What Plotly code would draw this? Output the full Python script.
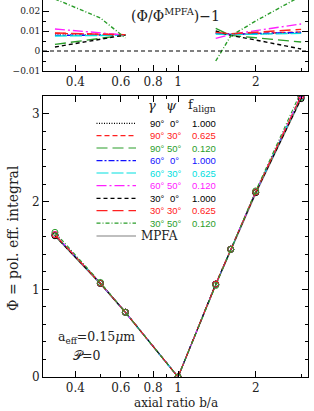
import math
import plotly.graph_objects as go

# ---------------- data ----------------
x_ratio = [1/3, 0.5, 0.625, 1.0, 1.4, 1.6, 2.0, 3.0]
phi_mpfa = [1.608, 1.061, 0.733, 0.0, 1.049, 1.445, 2.091, 3.171]

dev_90_0 = [0.0080, 0.0080, 0.0080, None, 0.0090, 0.0083, 0.0086, 0.0090]
dev_90_30 = [0.0088, 0.0085, 0.0082, None, 0.0092, 0.0085, 0.0088, 0.0095]
dev_90_50 = [0.0033, 0.0063, 0.0080, None, 0.0113, 0.0078, 0.0066, 0.0045]
dev_60_0 = [0.0078, 0.0079, 0.0080, None, 0.0088, 0.0083, 0.0087, 0.0093]
dev_60_30 = [0.0075, 0.0077, 0.0079, None, 0.0085, 0.0082, 0.0084, 0.0088]
dev_60_50 = [0.0110, 0.0092, 0.0080, None, 0.0063, 0.0083, 0.0102, 0.0135]
dev_30_0 = [0.0020, 0.0058, 0.0080, None, 0.0100, 0.0078, 0.0055, 0.0010]
dev_30_30 = [0.0090, 0.0085, 0.0081, None, 0.0093, 0.0086, 0.0094, 0.0108]
dev_30_50 = [0.0260, 0.0165, 0.0065, None, -0.0050, 0.0075, 0.0150, 0.0275]

gamma_labels = ["90°", "90°", "90°", "60°", "60°", "60°", "30°", "30°", "30°"]
psi_labels = ["0°", "30°", "50°", "0°", "30°", "50°", "0°", "30°", "50°"]
falign_labels = ["1.000", "0.625", "0.120", "1.000", "0.625", "0.120", "1.000", "0.625", "0.120"]

x_tick_vals = [0.4, 0.6, 0.8, 1, 2]
x_tick_text = ["0.4", "0.6", "0.8", "1", "2"]
x_minor_vals = [0.3, 0.5, 0.7, 0.9, 3]
top_y_vals = [-0.01, 0, 0.01, 0.02]
top_y_text = ["\u22120.01", "0", "0.01", "0.02"]
main_y_vals = [0, 1, 2, 3]

# ---------------- styles ----------------
devs = [dev_90_0, dev_90_30, dev_90_50, dev_60_0, dev_60_30, dev_60_50,
        dev_30_0, dev_30_30, dev_30_50]
colors = ["#000000", "#ff2020", "#2a9d2a", "#1010ff", "#00e0e0", "#ff20ff",
          "#000000", "#ff2020", "#2a9d2a"]
dashes = ["1px,1.5px", "5px,3px", "11px,5px", "6px,2px,2px,2px", "12px,3px",
          "10px,3px,2px,3px", "4px,3px", "11px,5px", "4px,2px,1px,2px"]
widths = [1.2, 1.4, 1.4, 1.4, 1.4, 1.4, 1.4, 1.4, 1.4]
gray = "#808080"

W, H = 314, 411
L, R, T, B = 43, 308, 0, 377   # plot area in page pixels


def px(xp):
    return (xp - L) / (R - L)


def py(yp):
    return (B - yp) / (B - T)


serif = "DejaVu Serif"
sans = "Liberation Sans"

fig = go.Figure()

# ---- top panel (ratio - 1) ----
for d, c, ds, w in zip(devs, colors, dashes, widths):
    fig.add_trace(go.Scatter(x=x_ratio, y=d, mode="lines",
                             line=dict(color=c, width=w, dash=ds),
                             connectgaps=False, xaxis="x", yaxis="y", showlegend=False))

# ---- main panel ----
fig.add_trace(go.Scatter(x=x_ratio, y=phi_mpfa, mode="lines",
                         line=dict(color=gray, width=1.2),
                         xaxis="x2", yaxis="y2", showlegend=False))
for d, c, ds, w in zip(devs, colors, dashes, widths):
    phi = [p * (1 + (v if v is not None else 0)) for p, v in zip(phi_mpfa, d)]
    fig.add_trace(go.Scatter(x=x_ratio, y=phi, mode="lines+markers",
                             line=dict(color=c, width=1.1, dash=ds),
                             marker=dict(symbol="circle-open", size=6, color=c,
                                         line=dict(width=1, color=c)),
                             xaxis="x2", yaxis="y2", showlegend=False))

xr = [math.log10(0.2996), math.log10(3.19)]
axis_common = dict(showline=True, linecolor="black", linewidth=1, showgrid=False,
                   zeroline=False, ticks="inside", ticklen=6, tickcolor="black",
                   tickwidth=1)

top_dom = [py(71), 1.0]
main_dom = [0.0, py(96)]

fig.update_layout(
    width=W, height=H,
    margin=dict(l=L, r=W - R, t=T, b=H - B, pad=0),
    paper_bgcolor="white", plot_bgcolor="white",
    showlegend=False,
    xaxis=dict(**axis_common, type="log", range=xr, domain=[0, 1], anchor="y",
               tickvals=x_tick_vals, ticktext=x_tick_text, mirror=False,
               minor=dict(tickvals=x_minor_vals, ticklen=3, ticks="inside", tickcolor="black"),
               tickfont=dict(family=serif, size=12, color="#222")),
    yaxis=dict(**axis_common, range=[-0.01, 0.0255], domain=top_dom, anchor="x",
               tickvals=top_y_vals, ticktext=top_y_text, mirror="ticks",
               minor=dict(dtick=0.005, tick0=0, ticklen=3, ticks="inside", tickcolor="black"),
               tickfont=dict(family=serif, size=9, color="#222")),
    xaxis2=dict(**axis_common, type="log", range=xr, domain=[0, 1], anchor="y2",
                tickvals=x_tick_vals, ticktext=x_tick_text, mirror="ticks",
                minor=dict(tickvals=x_minor_vals, ticklen=3, ticks="inside", tickcolor="black"),
                tickfont=dict(family=serif, size=12, color="#222")),
    yaxis2=dict(**axis_common, range=[0, 3.205], domain=main_dom, anchor="x2",
                tickvals=main_y_vals, mirror="ticks",
                minor=dict(dtick=0.2, tick0=0, ticklen=3, ticks="inside", tickcolor="black"),
                tickfont=dict(family=serif, size=12, color="#222")),
)

shapes = []
annotations = []

# legend
row_y = [123.3, 135.7, 148.0, 160.7, 173.0, 185.7, 198.3, 210.7, 223.2]
for i in range(9):
    shapes.append(dict(type="line", xref="paper", yref="paper",
                       x0=px(96.5), x1=px(136), y0=py(row_y[i]), y1=py(row_y[i]),
                       line=dict(color=colors[i], width=1.2, dash=dashes[i])))
    for txt, xx, anc in ((gamma_labels[i], 148, "left"), (psi_labels[i], 174.5, "center"),
                         (falign_labels[i], 190, "left")):
        annotations.append(dict(xref="paper", yref="paper", x=px(xx), y=py(row_y[i]),
                                text=txt, showarrow=False, xanchor=anc, yanchor="middle",
                                font=dict(family=sans, size=9.5, color=colors[i])))
mp_y = 236.0
shapes.append(dict(type="line", xref="paper", yref="paper", x0=px(96.5), x1=px(136),
                   y0=py(mp_y), y1=py(mp_y), line=dict(color=gray, width=1.2)))
annotations.append(dict(xref="paper", yref="paper", x=px(139), y=py(mp_y), text="MPFA",
                        showarrow=False, xanchor="left", yanchor="middle",
                        font=dict(family=serif, size=12, color="#222")))
# legend header
annotations.append(dict(xref="paper", yref="paper", x=px(152), y=py(105), text="<i>γ</i>",
                        showarrow=False, xanchor="center", yanchor="middle",
                        font=dict(family=serif, size=13, color="#222")))
annotations.append(dict(xref="paper", yref="paper", x=px(171), y=py(105), text="<i>ψ</i>",
                        showarrow=False, xanchor="center", yanchor="middle",
                        font=dict(family=serif, size=13, color="#222")))
annotations.append(dict(xref="paper", yref="paper", x=px(186), y=py(105),
                        text="f<sub>align</sub>",
                        showarrow=False, xanchor="left", yanchor="middle",
                        font=dict(family=serif, size=13, color="#222")))

# top-panel zero line
shapes.append(dict(type="line", xref="x domain", yref="y", x0=0, x1=1, y0=0, y1=0,
                   line=dict(color="black", width=1, dash="4px,3px")))

# titles and notes
annotations.append(dict(xref="paper", yref="paper", x=px(175), y=py(15),
                        text="(Φ/Φ<sup>MPFA</sup>)\u22121", showarrow=False,
                        xanchor="center", yanchor="middle",
                        font=dict(family=serif, size=14, color="#222")))
annotations.append(dict(xref="paper", yref="paper", x=px(176), y=py(403),
                        text="axial ratio b/a", showarrow=False,
                        xanchor="center", yanchor="middle",
                        font=dict(family=serif, size=12, color="#222")))
annotations.append(dict(xref="paper", yref="paper", x=px(13), y=py(238),
                        text="Φ = pol. eff. integral", showarrow=False, textangle=-90,
                        xanchor="center", yanchor="middle",
                        font=dict(family=serif, size=14, color="#222")))
annotations.append(dict(xref="paper", yref="paper", x=px(96), y=py(337),
                        text="a<sub>eff</sub>=0.15<i>μ</i>m", showarrow=False,
                        xanchor="center", yanchor="middle",
                        font=dict(family=serif, size=12.5, color="#222")))
annotations.append(dict(xref="paper", yref="paper", x=px(86), y=py(355),
                        text="𝒫=0", showarrow=False,
                        xanchor="center", yanchor="middle",
                        font=dict(family=serif, size=12.5, color="#222")))

fig.update_layout(shapes=shapes, annotations=annotations)

fig.write_html("out.html", config={"displayModeBar": False},
               post_script="document.body.style.margin='0';document.body.style.overflow='hidden';")
